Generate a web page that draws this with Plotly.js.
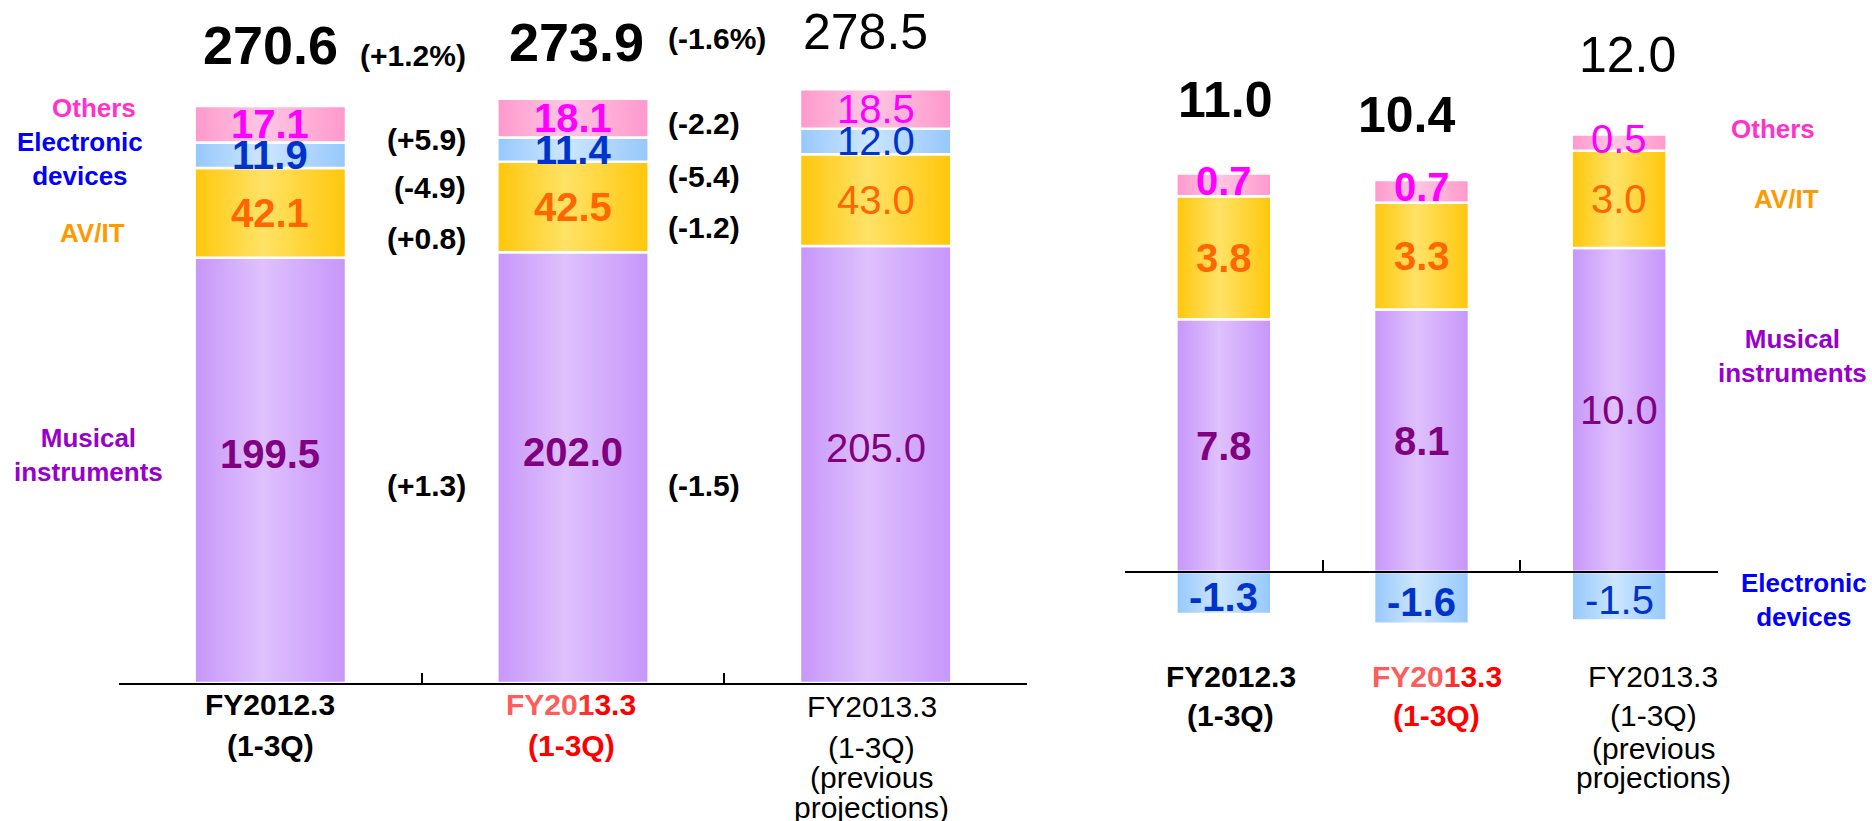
<!DOCTYPE html>
<html>
<head>
<meta charset="utf-8">
<script src="https://cdn.plot.ly/plotly-3.0.1.min.js"></script>
<style>
html,body{margin:0;padding:0;background:#fff;}
#chart{width:1872px;height:821px;}
</style>
</head>
<body>
<div id="chart"></div>
<script>
// ---------------- DATA ----------------
const categories = ["FY2012.3 (1-3Q)", "FY2013.3 (1-3Q)", "FY2013.3 (1-3Q) (previous projections)"];

// Net sales (left chart)
const salesMusical    = [199.5, 202.0, 205.0];
const salesAVIT       = [42.1, 42.5, 43.0];
const salesElectronic = [11.9, 11.4, 12.0];
const salesOthers     = [17.1, 18.1, 18.5];
const salesTotal      = [270.6, 273.9, 278.5];

// Operating income (right chart)
const opMusical    = [7.8, 8.1, 10.0];
const opAVIT       = [3.8, 3.3, 3.0];
const opElectronic = [-1.3, -1.6, -1.5];
const opOthers     = [0.7, 0.7, 0.5];
const opTotal      = [11.0, 10.4, 12.0];

// Change labels (left chart): order Musical, AV/IT, Electronic, Others
const changeVsPrevYear   = ["(+1.3)", "(+0.8)", "(-4.9)", "(+5.9)"];
const changeVsPrevYearTotal = "(+1.2%)";
const changeVsProjection = ["(-1.5)", "(-1.2)", "(-5.4)", "(-2.2)"];
const changeVsProjectionTotal = "(-1.6%)";

// Tick labels
const tickLines = [["FY2012.3", "(1-3Q)"], ["FY2013.3", "(1-3Q)"], ["FY2013.3", "(1-3Q)", "(previous", "projections)"]];
const segmentNames = ["Musical<br>instruments", "AV/IT", "Electronic<br>devices", "Others"];

// ---------------- STYLE ----------------
const W = 1872, H = 821;
const FONT = "Liberation Sans, Arial, sans-serif";
const colors = {
  musical:    {edge: "#c796fa", center: "#dfc1fd", text: "#800080", legend: "#9900cc"},
  avit:       {edge: "#ffc70a", center: "#ffe266", text: "#ff6600", legend: "#ff9900"},
  electronic: {edge: "#96c8fc", center: "#cde6ff", text: "#0033cc", legend: "#0000ff"},
  others:     {edge: "#ff99cc", center: "#ffc6e3", text: "#ff00ff", legend: "#ff33cc"}
};
const py = p => 1 - p / H;      // pixel row -> paper fraction
const px = p => p / W;          // pixel col -> paper fraction

const xIdx = categories.map((_, i) => i);

function barTrace(y, key, xa, ya, width) {
  return {
    type: "bar", x: xIdx, y: y, xaxis: xa, yaxis: ya, width: width,
    marker: {color: colors[key].edge, line: {color: "#ffffff", width: 2.5}},
    hoverinfo: "skip", showlegend: false, textposition: "none"
  };
}

const data = [
  barTrace(salesMusical, "musical", "x", "y", 0.5),
  barTrace(salesAVIT, "avit", "x", "y", 0.5),
  barTrace(salesElectronic, "electronic", "x", "y", 0.5),
  barTrace(salesOthers, "others", "x", "y", 0.5),
  barTrace(opMusical, "musical", "x2", "y2", 0.48),
  barTrace(opAVIT, "avit", "x2", "y2", 0.48),
  barTrace(opOthers, "others", "x2", "y2", 0.48),
  barTrace(opElectronic, "electronic", "x2", "y2", 0.48)
];

const ann = [];
function A(o) {
  ann.push(Object.assign({showarrow: false, xanchor: "center", yanchor: "middle",
    font: {family: FONT, size: 30, color: "#000"}}, o));
}

// segment value labels (midpoint of each stacked segment)
function segLabels(seriesList, keys, xa, ya, shifts) {
  const pos = xIdx.map(() => 0);
  seriesList.forEach((s, k) => {
    s.forEach((v, i) => {
      let mid;
      if (v >= 0) { mid = pos[i] + v / 2; pos[i] += v; } else { mid = v / 2; }
      const bold = i < 2;
      A({xref: xa, yref: ya, x: i, y: mid, yshift: shifts[k],
         text: bold ? "<b>" + v.toFixed(1) + "</b>" : v.toFixed(1),
         font: {family: FONT, size: 40, color: colors[keys[k]].text}});
    });
  });
}
segLabels([salesMusical, salesAVIT, salesElectronic, salesOthers], ["musical","avit","electronic","others"], "x", "y", [16, 0, 0, 0]);
segLabels([opMusical, opAVIT, opOthers, opElectronic], ["musical","avit","others","electronic"], "x2", "y2", [0, 0, 4, -4]);

// totals
const salesTotY = [45, 42, 32], salesTotDx = [0, 3, -10];
salesTotal.forEach((v, i) => A({xref: "x", yref: "paper", x: i, y: py(salesTotY[i]), xshift: salesTotDx[i],
  text: i < 2 ? "<b>" + v.toFixed(1) + "</b>" : v.toFixed(1), font: {family: FONT, size: i < 2 ? 54 : 50, color: "#000"}}));
const opTotY = [100, 115, 55], opTotDx = [2, -15, 8];
opTotal.forEach((v, i) => A({xref: "x2", yref: "paper", x: i, y: py(opTotY[i]), xshift: opTotDx[i],
  text: i < 2 ? "<b>" + v.toFixed(1) + "</b>" : v.toFixed(1), font: {family: FONT, size: 50, color: "#000"}}));

// change labels
const chgY1 = [486, 238, 187, 139];
changeVsPrevYear.forEach((t, k) => A({xref: "paper", yref: "paper", x: px(468), y: py(chgY1[k]), xanchor: "right", text: "<b>" + t + "</b>"}));
A({xref: "paper", yref: "paper", x: px(468), y: py(55), xanchor: "right", text: "<b>" + changeVsPrevYearTotal + "</b>"});
const chgY2 = [486, 227, 176, 124];
changeVsProjection.forEach((t, k) => A({xref: "paper", yref: "paper", x: px(666), y: py(chgY2[k]), xanchor: "left", text: "<b>" + t + "</b>"}));
A({xref: "paper", yref: "paper", x: px(666), y: py(39), xanchor: "left", text: "<b>" + changeVsProjectionTotal + "</b>"});

// segment name labels
const legL = [[88, 455], [92, 233], [80, 159], [94, 108]];
const legR = [[1792, 356], [1786, 199], [1804, 600], [1773, 129]];
const legKeys = ["musical", "avit", "electronic", "others"];
segmentNames.forEach((t, k) => {
  A({xref: "paper", yref: "paper", x: px(legL[k][0]), y: py(legL[k][1]), text: "<b>" + t + "</b>",
     font: {family: FONT, size: 26, color: colors[legKeys[k]].legend}});
  A({xref: "paper", yref: "paper", x: px(legR[k][0]), y: py(legR[k][1]), text: "<b>" + t + "</b>",
     font: {family: FONT, size: 26, color: colors[legKeys[k]].legend}});
});

// category tick labels
const redFY = '<span style="color:#ff5c5c">FY20</span><span style="color:#ff3030">1</span><span style="color:#ff0000">3.3</span>';
const lineYLeft = [[704, 745], [704, 745], [706, 747, 777, 807]];
const lineYRight = [[676, 715], [676, 715], [676, 715, 748, 777]];
const dxLeft = [0, -2, -4], dxRight = [7, 15, 34];
tickLines.forEach((lines, i) => {
  lines.forEach((ln, j) => {
    let txt, col = "#000";
    if (i === 0) txt = "<b>" + ln + "</b>";
    else if (i === 1) { txt = j === 0 ? "<b>" + redFY + "</b>" : "<b>" + ln + "</b>"; col = "#ff0000"; }
    else txt = ln;
    A({xref: "x", yref: "paper", x: i, y: py(lineYLeft[i][j]), xshift: dxLeft[i], text: txt, font: {family: FONT, size: 30, color: col}});
    A({xref: "x2", yref: "paper", x: i, y: py(lineYRight[i][j]), xshift: dxRight[i], text: txt, font: {family: FONT, size: 30, color: col}});
  });
});

// ---------------- AXES ----------------
const leftZero = 683, leftScale = 2.132;   // px per unit
const rightZero = 572, rightScale = 32.4;
const xCommon = {
  range: [-0.5, 2.5], tickvals: [-0.5, 0.5, 1.5, 2.5], ticks: "inside", ticklen: 10, tickwidth: 2,
  tickcolor: "#000", showticklabels: false, showline: true, linecolor: "#000", linewidth: 2,
  showgrid: false, zeroline: false, fixedrange: true
};
const yCommon = {showgrid: false, zeroline: false, showline: false, showticklabels: false, ticks: "", fixedrange: true};

const layout = {
  width: W, height: H, margin: {l: 0, r: 0, t: 0, b: 0},
  paper_bgcolor: "#fff", plot_bgcolor: "rgba(0,0,0,0)",
  barmode: "relative", showlegend: false, hovermode: false,
  xaxis: Object.assign({}, xCommon, {domain: [px(119), px(1027)], anchor: "y"}),
  yaxis: Object.assign({}, yCommon, {domain: [py(leftZero), 1], range: [0, leftZero / leftScale], anchor: "x"}),
  xaxis2: Object.assign({}, xCommon, {domain: [px(1125), px(1718)], anchor: "free", position: py(rightZero), ticklen: 11}),
  yaxis2: Object.assign({}, yCommon, {domain: [0, 1], range: [-(H - rightZero) / rightScale, rightZero / rightScale], anchor: "x2"}),
  annotations: ann
};

const gd = document.getElementById("chart");
Plotly.newPlot(gd, data, layout, {staticPlot: true, displayModeBar: false}).then(() => {
  // horizontal shading of the bars (edge -> light centre -> edge)
  const ns = "http://www.w3.org/2000/svg";
  const svg = gd.querySelector("svg.main-svg");
  let defs = svg.querySelector("defs");
  if (!defs) { defs = document.createElementNS(ns, "defs"); svg.insertBefore(defs, svg.firstChild); }
  const toRgb = h => { const n = parseInt(h.slice(1), 16); return "rgb(" + (n >> 16) + ", " + ((n >> 8) & 255) + ", " + (n & 255) + ")"; };
  const map = {};
  Object.keys(colors).forEach(k => {
    const g = document.createElementNS(ns, "linearGradient");
    g.setAttribute("id", "grad-" + k);
    g.setAttribute("x1", "0"); g.setAttribute("y1", "0"); g.setAttribute("x2", "1"); g.setAttribute("y2", "0");
    [[0, colors[k].edge], [0.45, colors[k].center], [1, colors[k].edge]].forEach(([o, c]) => {
      const s = document.createElementNS(ns, "stop");
      s.setAttribute("offset", o); s.setAttribute("stop-color", c);
      g.appendChild(s);
    });
    defs.appendChild(g);
    map[toRgb(colors[k].edge)] = "url(#grad-" + k + ")";
  });
  gd.querySelectorAll(".barlayer path").forEach(p => {
    const f = p.style.fill;
    if (map[f]) p.style.fill = map[f];
  });
});
</script>
</body>
</html>
